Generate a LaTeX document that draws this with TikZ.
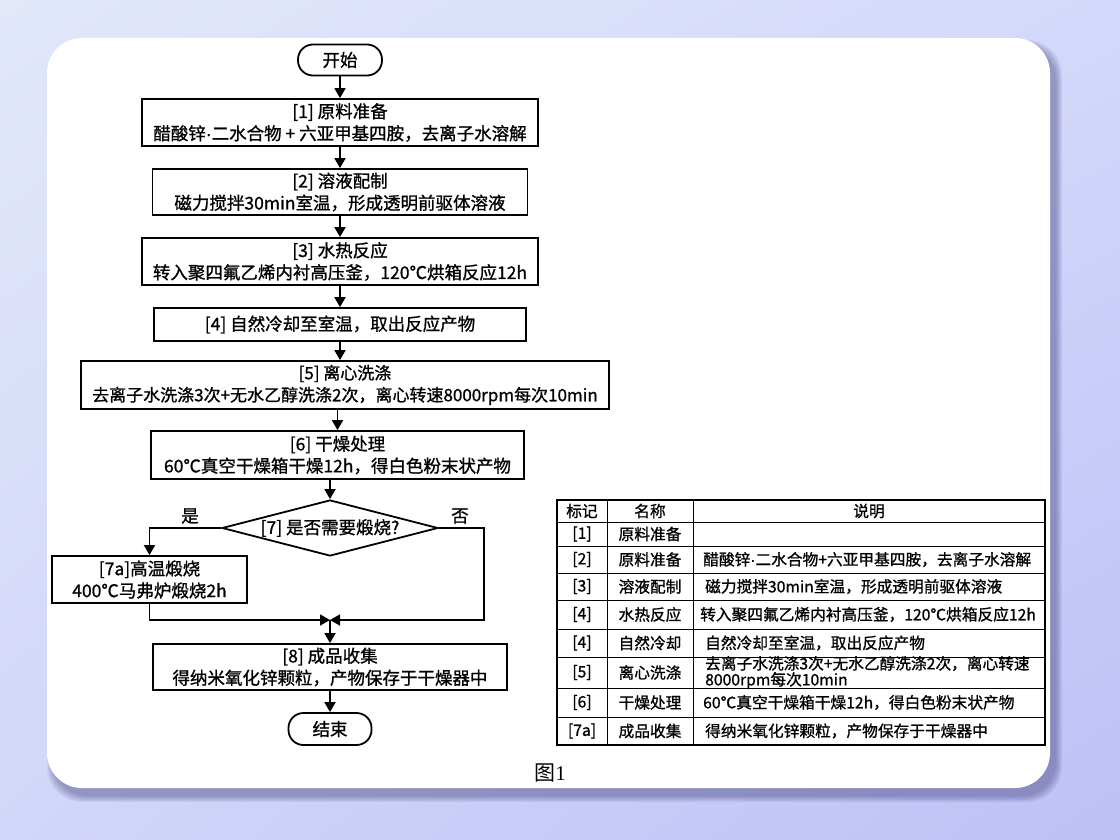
\documentclass[tikz,border=0pt]{standalone}
\usepackage{fontspec}
\setmainfont{Noto Sans CJK SC}[FakeBold=1.0]
\newfontfamily\capfont{Liberation Serif}
\newfontfamily\capcjk{Noto Sans CJK SC}
\newfontfamily\dotfont{Liberation Sans}[FakeBold=1.0]
\newcommand{\mdot}{{\dotfont\symbol{"00B7}}}
\usetikzlibrary{arrows.meta,positioning,shapes.geometric,calc,shadings}
\definecolor{bgA}{RGB}{226,232,250}
\definecolor{bgB}{RGB}{212,216,250}
\definecolor{bgC}{RGB}{210,214,248}
\definecolor{bgD}{RGB}{190,192,246}
\definecolor{shadowc}{RGB}{60,60,120}

\begin{document}
\begin{tikzpicture}[x=1pt,y=-1pt,
  proc/.style={draw,line width=1.8pt,rectangle,align=center,inner sep=0pt,font=\fontsize{17.5}{22}\selectfont},
  term/.style={draw,line width=1.8pt,rounded corners=15pt,minimum width=84pt,minimum height=31pt,inner sep=0pt,font=\fontsize{17.5}{22}\selectfont},
  dec/.style={draw,line width=1.8pt,diamond,aspect=3.86,minimum width=216pt,minimum height=56pt,inner sep=0pt,font=\fontsize{17.5}{22}\selectfont},
  arr/.style={-{Triangle[length=10pt,width=11pt]},line width=1.8pt},
  cell/.style={inner sep=0pt,font=\fontsize{15.7}{16}\selectfont},
  lab/.style={inner sep=0pt,font=\fontsize{17.5}{20}\selectfont}]
  % background and card
  \shade[upper left=bgA,upper right=bgB,lower left=bgC,lower right=bgD] (0,0) rectangle (1120,840);
  \foreach \d in {0,...,6}
    \fill[shadowc,opacity=0.07,rounded corners=35pt] (53-\d,46-\d) rectangle (1056+\d,796+\d);
  \fill[white,rounded corners=35pt] (47,38) rectangle (1050,788);

  % flow chart
  \node[term] (start) at (340,60) {开始};
  \node[proc,minimum width=396pt,minimum height=47pt] (b1) at (340,122.5) {[1] 原料准备\\醋酸锌\mdot 二水合物 + 六亚甲基四胺，去离子水溶解};
  \node[proc,minimum width=375pt,minimum height=46pt] (b2) at (340,192) {[2] 溶液配制\\磁力搅拌30min室温，形成透明前驱体溶液};
  \node[proc,minimum width=396pt,minimum height=47pt] (b3) at (340,261.5) {[3] 水热反应\\转入聚四氟乙烯内衬高压釜，120℃烘箱反应12h};
  \node[proc,minimum width=372pt,minimum height=33pt] (b4) at (340,324.5) {[4] 自然冷却至室温，取出反应产物};
  \node[proc,minimum width=528pt,minimum height=48pt,font=\fontsize{17}{22}\selectfont] (b5) at (345,385) {[5] 离心洗涤\\去离子水洗涤3次+无水乙醇洗涤2次，离心转速8000rpm每次10min};
  \node[proc,minimum width=373pt,minimum height=48pt] (b6) at (337.5,455) {[6] 干燥处理\\60℃真空干燥箱干燥12h，得白色粉末状产物};
  \node[dec] (dec) at (330,528) {[7] 是否需要煅烧?};
  \node[proc,minimum width=195pt,minimum height=47pt] (b7a) at (149.5,579.5) {[7a]高温煅烧\\400℃马弗炉煅烧2h};
  \coordinate (j) at (330,620);
  \node[proc,minimum width=354pt,minimum height=46pt] (b8) at (330,667) {[8] 成品收集\\得纳米氧化锌颗粒，产物保存于干燥器中};
  \node[term,minimum width=83pt,minimum height=32pt] (end) at (330,729) {结束};
  \node[lab] (yes) at (190,516) {是};
  \node[lab] (no) at (460,516) {否};

  \draw[arr] (start) -- (b1);
  \draw[arr] (b1) -- (b2);
  \draw[arr] (b2) -- (b3);
  \draw[arr] (b3) -- (b4);
  \draw[arr] (b4.south) -- (b4.south |- b5.north);
  \draw[arr] (b5.south -| b6) -- (b6);
  \draw[arr] (b6.south -| dec) -- (dec);
  \draw[arr] (dec.west) -| (b7a);
  \draw[arr] (b7a) |- (j);
  \draw[arr] (dec.east) -- ++(45,0) |- (j);
  \draw[arr] (j) -- (b8);
  \draw[arr] (b8) -- (end);

  % table
  \draw[line width=1.2pt] (557,500) rectangle (1045,745);
  \foreach \r in {522,546,573,600,629,657,688,717}
    \draw[line width=1pt] (557,\r) -- (1045,\r);
  \draw[line width=1pt] (607,500) -- (607,745);
  \draw[line width=1pt] (693,500) -- (693,745);

  \node[cell] (h1) at (582,511) {标记};
  \node[cell] (h2) at (650,511) {名称};
  \node[cell] (h3) at (869,511) {说明};

  \node[cell] (m1) at (582,534) {[1]};
  \node[cell] (n1) at (650,534) {原料准备};
  \node[cell] (m2) at (582,559.5) {[2]};
  \node[cell] (n2) at (650,559.5) {原料准备};
  \node[cell,anchor=west] (d2) at (703,559.5) {醋酸锌\mdot 二水合物+六亚甲基四胺，去离子水溶解};
  \node[cell] (m3) at (582,586.5) {[3]};
  \node[cell] (n3) at (650,586.5) {溶液配制};
  \node[cell,anchor=west] (d3) at (705,586.5) {磁力搅拌30min室温，形成透明前驱体溶液};
  \node[cell] (m4) at (582,614.5) {[4]};
  \node[cell] (n4) at (650,614.5) {水热反应};
  \node[cell,anchor=west] (d4) at (700,614.5) {转入聚四氟乙烯内衬高压釜，120℃烘箱反应12h};
  \node[cell] (m4b) at (582,643) {[4]};
  \node[cell] (n4b) at (650,643) {自然冷却};
  \node[cell,anchor=west] (d4b) at (705,643) {自然冷却至室温，取出反应产物};
  \node[cell] (m5) at (582,672.5) {[5]};
  \node[cell] (n5) at (650,672.5) {离心洗涤};
  \node[cell,anchor=west,align=left] (d5) at (705,672.5) {去离子水洗涤3次+无水乙醇洗涤2次，离心转速\\8000rpm每次10min};
  \node[cell] (m6) at (582,702.5) {[6]};
  \node[cell] (n6) at (650,702.5) {干燥处理};
  \node[cell,anchor=west] (d6) at (703,702.5) {60℃真空干燥箱干燥12h，得白色粉末状产物};
  \node[cell] (m7) at (582,731) {[7a]};
  \node[cell] (n7) at (650,731) {成品收集};
  \node[cell,anchor=west] (d7) at (705,731) {得纳米氧化锌颗粒，产物保存于干燥器中};

  \node[inner sep=0pt,font=\fontsize{21}{24}\selectfont] (cap) at (550,773) {\capcjk 图\capfont 1};
\end{tikzpicture}
\end{document}
